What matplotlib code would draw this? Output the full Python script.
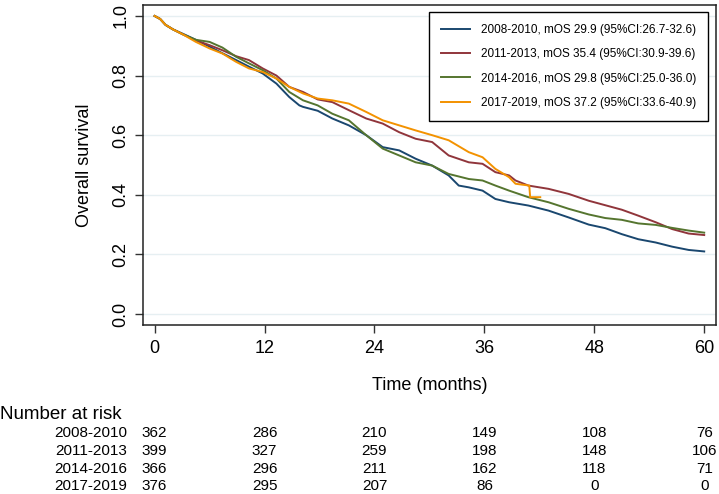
import matplotlib
matplotlib.use('Agg')
import matplotlib.pyplot as plt
import matplotlib.transforms as mtransforms

plt.rcParams['font.family'] = ['Liberation Sans', 'DejaVu Sans']

# Kaplan-Meier readings (months, survival) per diagnosis period
t_0810 = [0, 0.6, 1.2, 2.0, 3.1, 4.5, 6.0, 7.4, 8.9, 10.3, 11.8, 13.3, 14.7, 15.8, 16.2,
          17.8, 19.4, 21.2, 23.1, 24.9, 26.7, 28.5, 30.3, 32.1, 33.2, 34.3, 35.8, 37.2,
          38.7, 40.8, 43.0, 45.2, 47.4, 49.2, 51.0, 52.8, 54.7, 56.5, 58.3, 60.0]
s_0810 = [1.0, 0.99, 0.97, 0.955, 0.94, 0.92, 0.897, 0.875, 0.852, 0.83, 0.807, 0.773, 0.728,
          0.70, 0.695, 0.682, 0.656, 0.633, 0.60, 0.56, 0.549, 0.521, 0.498, 0.465, 0.431,
          0.425, 0.414, 0.386, 0.375, 0.364, 0.347, 0.324, 0.30, 0.288, 0.268, 0.251, 0.24,
          0.226, 0.215, 0.21]

t_1113 = [0, 0.6, 1.2, 2.0, 3.1, 4.5, 6.0, 7.4, 8.9, 10.3, 11.8, 13.3, 14.7, 16.2, 17.8,
          19.4, 21.2, 23.1, 24.9, 26.7, 28.5, 30.3, 32.1, 34.3, 35.8, 37.2, 38.7, 39.4,
          40.8, 43.0, 45.2, 47.4, 49.2, 51.0, 52.8, 54.7, 56.5, 58.3, 60.0]
s_1113 = [1.0, 0.99, 0.97, 0.955, 0.938, 0.918, 0.902, 0.885, 0.865, 0.852, 0.824, 0.80,
          0.762, 0.745, 0.72, 0.711, 0.684, 0.656, 0.639, 0.61, 0.588, 0.577, 0.532, 0.509,
          0.504, 0.476, 0.465, 0.448, 0.431, 0.42, 0.403, 0.38, 0.365, 0.35, 0.33, 0.308,
          0.285, 0.27, 0.265]

t_1416 = [0, 0.6, 1.2, 2.0, 3.1, 4.5, 6.0, 7.4, 8.9, 10.3, 11.8, 13.3, 14.7, 16.2, 17.8,
          19.4, 21.2, 23.1, 24.9, 26.7, 28.5, 30.3, 32.1, 34.3, 35.8, 37.2, 38.7, 40.8,
          43.0, 45.2, 47.4, 49.2, 51.0, 52.8, 54.7, 56.5, 58.3, 60.0]
s_1416 = [1.0, 0.99, 0.97, 0.955, 0.938, 0.92, 0.913, 0.894, 0.863, 0.841, 0.818, 0.79,
          0.745, 0.717, 0.70, 0.672, 0.65, 0.60, 0.555, 0.532, 0.509, 0.498, 0.47, 0.453,
          0.448, 0.431, 0.414, 0.392, 0.375, 0.353, 0.334, 0.322, 0.316, 0.304, 0.299,
          0.289, 0.28, 0.273]

t_1719 = [0, 0.6, 1.2, 2.0, 3.1, 4.5, 6.0, 7.4, 8.9, 10.3, 11.8, 13.3, 14.7, 16.2, 17.8,
          19.4, 21.2, 23.1, 24.9, 26.7, 28.5, 30.3, 32.1, 34.3, 35.8, 37.2, 38.7, 39.4,
          40.9, 41.0, 42.1]
s_1719 = [1.0, 0.99, 0.97, 0.955, 0.938, 0.913, 0.891, 0.874, 0.846, 0.824, 0.812, 0.79,
          0.762, 0.74, 0.723, 0.717, 0.706, 0.678, 0.65, 0.633, 0.616, 0.60, 0.583, 0.543,
          0.526, 0.487, 0.459, 0.437, 0.431, 0.392, 0.392]

groups = ['2008-2010', '2011-2013', '2014-2016', '2017-2019']
mos = ['29.9 (95%CI:26.7-32.6)', '35.4 (95%CI:30.9-39.6)',
       '29.8 (95%CI:25.0-36.0)', '37.2 (95%CI:33.6-40.9)']
colors = ['#1a476f', '#90353b', '#55752f', '#f39200']

risk_times = [0, 12, 24, 36, 48, 60]
risk_0810 = [362, 286, 210, 149, 108, 76]
risk_1113 = [399, 327, 259, 198, 148, 106]
risk_1416 = [366, 296, 211, 162, 118, 71]
risk_1719 = [376, 295, 207, 86, 0, 0]

times = [t_0810, t_1113, t_1416, t_1719]
surv = [s_0810, s_1113, s_1416, s_1719]
risks = [risk_0810, risk_1113, risk_1416, risk_1719]

fig = plt.figure(figsize=(7.19, 4.94), dpi=100)
ax = fig.add_axes([0.199, 0.342, 0.797, 0.648])

for t, s, g, m, c in zip(times, surv, groups, mos, colors):
    ax.plot(t, s, color=c, linewidth=1.4, label=f'{g}, mOS {m}')

ax.set_xlim(-1.26, 61.3)
ax.set_ylim(-0.037, 1.037)
ax.set_xticks(risk_times)
ax.set_yticks([0.0, 0.2, 0.4, 0.6, 0.8, 1.0])
ax.set_yticklabels(['0.0', '0.2', '0.4', '0.6', '0.8', '1.0'], rotation=90, va='center')
ax.tick_params(axis='both', labelsize=13, length=6, width=1, color='#333333')
ax.tick_params(axis='x', pad=5)
ax.tick_params(axis='y', pad=4)
ax.yaxis.grid(True, color='#e6eff2', linewidth=1)
ax.set_axisbelow(True)
for sp in ax.spines.values():
    sp.set_color('#222222')
    sp.set_linewidth(1.1)

ax.set_ylabel('Overall survival', fontsize=13, labelpad=14)

leg = ax.legend(loc='upper right', bbox_to_anchor=(0.986, 0.978), borderaxespad=0,
                fontsize=8.5, handlelength=2.5, handletextpad=0.9, labelspacing=1.05,
                borderpad=1.0, fancybox=False, framealpha=1, edgecolor='black')
leg.get_frame().set_linewidth(1.0)

# x label and number-at-risk table below the axes
trans = mtransforms.blended_transform_factory(ax.transData, ax.transAxes)
ax.text(30, -0.19, 'Time (months)', transform=trans, ha='center', va='center',
        fontsize=13, clip_on=False)
fig.text(0.0, 1 - 414 / 494, 'Number at risk', ha='left', va='center', fontsize=13.5)
row_y = [433, 451, 469, 486]
trans_row = mtransforms.blended_transform_factory(ax.transData, fig.transFigure)
for g, r, y in zip(groups, risks, row_y):
    fig.text(127 / 719, 1 - y / 494, g, ha='right', va='center', fontsize=11)
    for tt, n in zip(risk_times, r):
        ax.text(tt, 1 - y / 494, str(n), transform=trans_row, ha='center', va='center',
                fontsize=11, clip_on=False)

fig.savefig('out.png', dpi=100, facecolor='white')
